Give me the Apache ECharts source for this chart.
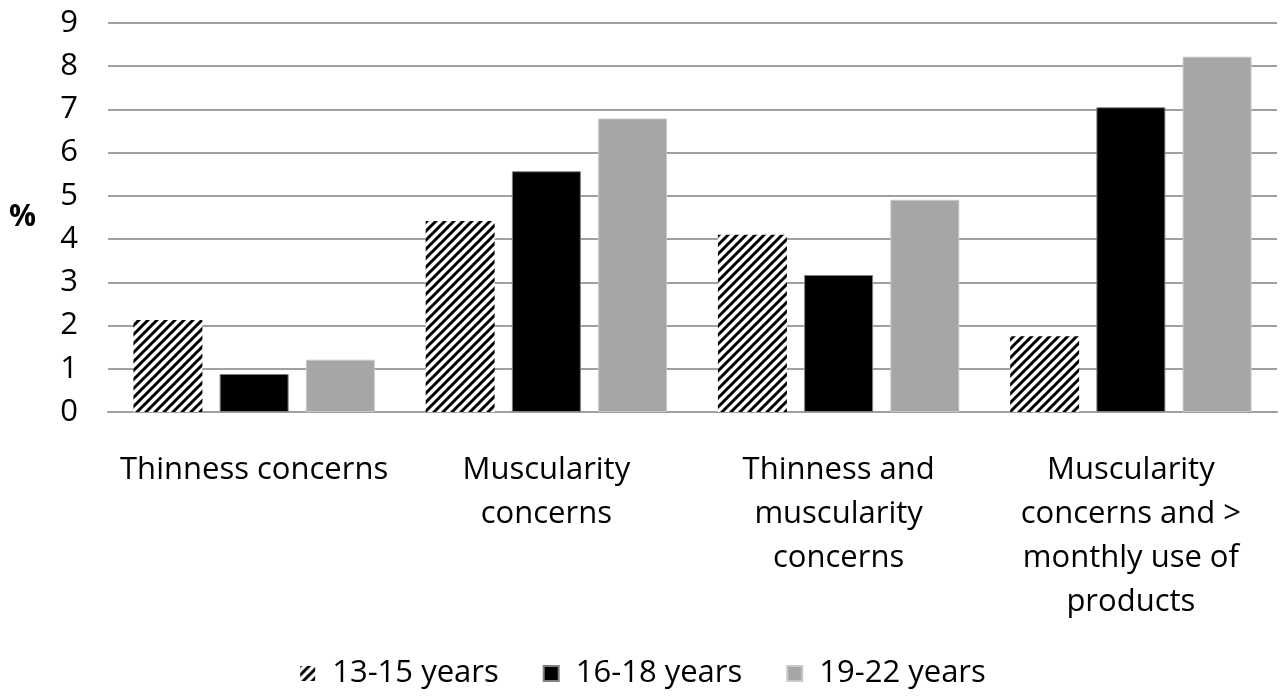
<!DOCTYPE html>
<html>
<head>
<meta charset="utf-8">
<script src="https://cdn.jsdelivr.net/npm/echarts@6/dist/echarts.min.js"></script>
<style>
  html, body { margin: 0; padding: 0; background: #fff; }
  #main { width: 1286px; height: 696px; }
</style>
</head>
<body>
<div id="main"></div>
<script>
// data
var categories = ['Thinness concerns', 'Muscularity\nconcerns', 'Thinness and\nmuscularity\nconcerns', 'Muscularity\nconcerns and >\nmonthly use of\nproducts'];
var seriesNames = ['13-15 years', '16-18 years', '19-22 years'];
var age13to15 = [2.13, 4.42, 4.10, 1.75];
var age16to18 = [0.88, 5.57, 3.17, 7.05];
var age19to22 = [1.21, 6.79, 4.91, 8.22];
var yTicks = [0, 1, 2, 3, 4, 5, 6, 7, 8, 9];

// diagonal hatch tile
function hatch() {
    var s = 9;
    var c = document.createElement('canvas');
    c.width = s; c.height = s;
    var ctx = c.getContext('2d');
    ctx.fillStyle = '#fff';
    ctx.fillRect(0, 0, s, s);
    ctx.strokeStyle = '#000';
    ctx.lineWidth = 3;
    ctx.beginPath();
    ctx.moveTo(-1, s + 1); ctx.lineTo(s + 1, -1);
    ctx.moveTo(-s / 2 - 1, s / 2 + 1); ctx.lineTo(s / 2 + 1, -s / 2 - 1);
    ctx.moveTo(s / 2 - 1, 1.5 * s + 1); ctx.lineTo(1.5 * s + 1, s / 2 - 1);
    ctx.stroke();
    return c;
}

var font = '"Open Sans", sans-serif';
var fs = 31;
var myChart = echarts.init(document.getElementById('main'));

var option = {
    animation: false,
    textStyle: { fontFamily: font },
    grid: { left: 108, right: 9, top: 23, bottom: 284, containLabel: false, outerBoundsMode: 'none' },
    legend: {
        bottom: 2,
        left: 'center',
        icon: 'rect',
        itemWidth: 15,
        itemHeight: 15,
        itemGap: 44,
        textStyle: { fontSize: fs, color: '#000', fontFamily: font, padding: [0, 0, 0, 12] },
        data: seriesNames
    },
    xAxis: {
        type: 'category',
        data: categories,
        axisLine: { show: true, lineStyle: { color: '#a0a0a0', width: 2 } },
        axisTick: { show: false },
        axisLabel: { fontSize: fs, color: '#000', lineHeight: 44, margin: 36, interval: 0, fontFamily: font }
    },
    yAxis: {
        type: 'value',
        min: yTicks[0],
        max: yTicks[yTicks.length - 1],
        interval: 1,
        name: '%',
        nameLocation: 'middle',
        nameRotate: 0,
        nameGap: 72,
        nameTextStyle: { fontSize: 30, fontWeight: 'bold', color: '#000', fontFamily: font },
        axisLine: { show: false },
        axisTick: { show: false },
        axisLabel: { fontSize: fs, color: '#000', margin: 30, fontFamily: font },
        splitLine: { lineStyle: { color: '#a0a0a0', width: 2 } }
    },
    series: [
        {
            name: seriesNames[0], type: 'bar', data: age13to15,
            barWidth: '23.6%', barGap: '25%',
            itemStyle: { color: { image: hatch(), repeat: 'repeat' } }
        },
        {
            name: seriesNames[1], type: 'bar', data: age16to18,
            barWidth: '23.6%', barGap: '25%',
            itemStyle: { color: '#000', borderColor: '#7f7f7f', borderWidth: 1 }
        },
        {
            name: seriesNames[2], type: 'bar', data: age19to22,
            barWidth: '23.6%', barGap: '25%',
            itemStyle: { color: '#a6a6a6', borderColor: '#c8c8c8', borderWidth: 1 }
        }
    ]
};
myChart.setOption(option);
</script>
</body>
</html>
